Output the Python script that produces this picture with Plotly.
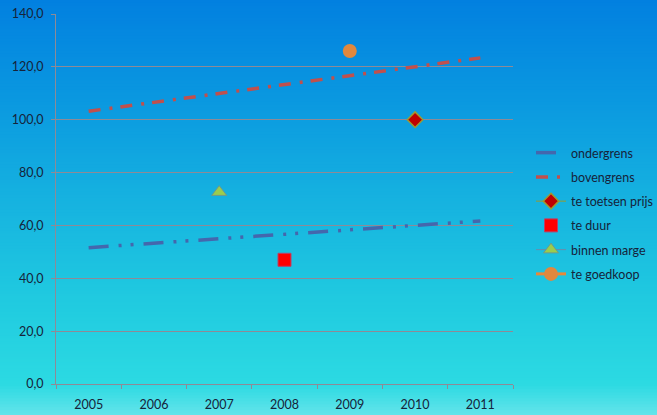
import plotly.graph_objects as go

years = ["2005", "2006", "2007", "2008", "2009", "2010", "2011"]
ondergrens = [51.6, 53.3, 55.0, 56.7, 58.4, 60.0, 61.7]
bovengrens = [103.2, 106.6, 110.0, 113.4, 116.8, 120.0, 123.4]
toetsen_x = ["2010"]
toetsen_y = [100.0]
duur_x = ["2008"]
duur_y = [47.0]
marge_x = ["2007"]
marge_y = [72.6]
goedkoop_x = ["2009"]
goedkoop_y = [126.0]

W, H = 657, 415
ML, MR, MT, MB = 56, 144, 14, 31
PH = H - MT - MB

FONT = "Lato"
TXT = "#16233a"
GRID = "#8e8a96"

fig = go.Figure()

fig.add_trace(go.Scatter(x=years, y=ondergrens, name="ondergrens", mode="lines",
                         line=dict(color="#4467ad", width=3.5, dash="20px,10px,3px,9px,3px,10px")))
fig.add_trace(go.Scatter(x=years, y=bovengrens, name="bovengrens", mode="lines",
                         line=dict(color="#c0504d", width=3.5, dash="12px,9px,3px,8px")))
fig.add_trace(go.Scatter(x=toetsen_x, y=toetsen_y, name="te toetsen prijs", mode="lines+markers",
                         line=dict(color="#9a9a2e", width=1),
                         marker=dict(symbol="diamond", size=12, color="#c00000",
                                     line=dict(color="#a09a30", width=1.5))))
fig.add_trace(go.Scatter(x=duur_x, y=duur_y, name="te duur", mode="markers",
                         marker=dict(symbol="square", size=13, color="#ff0000",
                                     line=dict(color="#b8406a", width=1))))
fig.add_trace(go.Scatter(x=marge_x, y=marge_y, name="binnen marge", mode="lines+markers",
                         line=dict(color="#6b8cab", width=1),
                         marker=dict(symbol="triangle-up", size=13, color="#9bcc4e",
                                     line=dict(color="#6f9a8a", width=1))))
fig.add_trace(go.Scatter(x=goedkoop_x, y=goedkoop_y, name="te goedkoop", mode="lines+markers",
                         line=dict(color="#e8883a", width=3),
                         marker=dict(symbol="circle", size=14, color="#e0883e")))

# background gradient (decorative)
stops = [(0, (2, 128, 224)), (100, (10, 152, 224)), (200, (22, 178, 224)),
         (300, (32, 202, 224)), (385, (44, 218, 226)), (415, (98, 228, 234))]

def col(py):
    for (y0, c0), (y1, c1) in zip(stops[:-1], stops[1:]):
        if y0 <= py <= y1:
            t = (py - y0) / (y1 - y0)
            return "rgb(%d,%d,%d)" % tuple(round(a + (b - a) * t) for a, b in zip(c0, c1))
    return "rgb(%d,%d,%d)" % stops[-1][1]

shapes = []
step = 3
for py in range(0, H, step):
    y0 = (H - MB - (py + step)) / PH
    y1 = (H - MB - py) / PH
    shapes.append(dict(type="rect", xref="paper", yref="paper", x0=-0.2, x1=1.4,
                       y0=y0, y1=y1 + 0.002, fillcolor=col(py + step / 2),
                       line=dict(width=0), layer="below"))

fig.update_layout(
    width=W, height=H,
    margin=dict(l=ML, r=MR, t=MT, b=MB, autoexpand=False),
    paper_bgcolor="#0a9ae0",
    plot_bgcolor="rgba(0,0,0,0)",
    separators=",.",
    shapes=shapes,
    font=dict(family=FONT, size=12, color=TXT),
    showlegend=True,
    legend=dict(xref="container", yref="container", x=531 / W, y=1 - 138 / H,
                xanchor="left", yanchor="top",
                bgcolor="rgba(0,0,0,0)", font=dict(family=FONT, size=12.5, color=TXT),
                tracegroupgap=5, traceorder="grouped"),
    xaxis=dict(type="category", range=[-0.5, 6.5], tickson="boundaries", ticks="outside", ticklen=4,
               tickcolor=GRID, showline=True, linecolor=GRID, linewidth=1, ticklabelstandoff=9,
               showgrid=False, tickfont=dict(family=FONT, size=12.5, color=TXT)),
    yaxis=dict(range=[0, 140], dtick=20, tickformat=".1f", ticks="outside", ticklen=4,
               tickcolor=GRID, showline=True, linecolor=GRID, linewidth=1, ticklabelstandoff=5,
               showgrid=True, gridcolor=GRID, gridwidth=1, zeroline=False,
               tickfont=dict(family=FONT, size=12.5, color=TXT)),
)
for i, tr in enumerate(fig.data):
    tr.legendgroup = "g%d" % i

fig.write_html("out.html", config={"displayModeBar": False},
               post_script="document.body.style.margin='0';document.body.style.overflow='hidden';")
